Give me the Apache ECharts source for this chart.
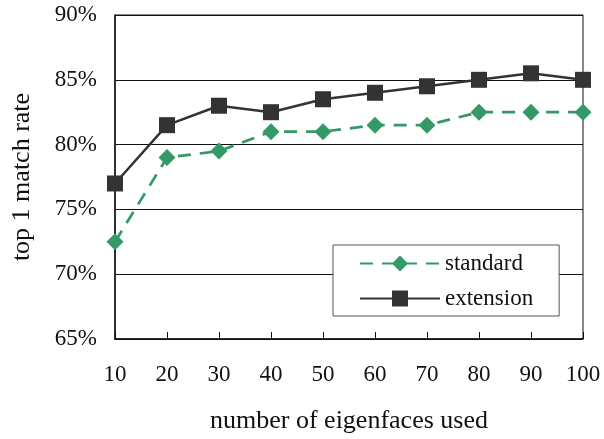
<!DOCTYPE html>
<html>
<head>
<meta charset="utf-8">
<script src="https://cdn.jsdelivr.net/npm/echarts@6/dist/echarts.min.js"></script>
<style>
  html, body { margin: 0; padding: 0; background: #fff; }
  #chart { width: 604px; height: 439px; }
</style>
</head>
<body>
<div id="chart"></div>
<script>
const categories = ['10', '20', '30', '40', '50', '60', '70', '80', '90', '100']
const standard = [72.5, 79, 79.5, 81, 81, 81.5, 81.5, 82.5, 82.5, 82.5]
const extension = [77, 81.5, 83, 82.5, 83.5, 84, 84.5, 85, 85.5, 85]

const font = "'Liberation Serif', 'Times New Roman', serif"
const chart = echarts.init(document.getElementById('chart'))

const option = {
  animation: false,
  textStyle: { fontFamily: font },
  grid: {
    left: 115,
    right: 21,
    top: 15,
    bottom: 99,
    show: true,
    borderColor: '#111',
    borderWidth: 1
  },
  legend: {
    orient: 'vertical',
    left: 333,
    top: 245,
    backgroundColor: '#fff',
    borderColor: '#555',
    borderWidth: 1,
    borderRadius: 0,
    padding: [7, 26, 6, 26],
    itemWidth: 80,
    itemHeight: 20,
    itemGap: 12,
    textStyle: { fontFamily: font, fontSize: 23, color: '#111', lineHeight: 22 },
    data: ['standard', 'extension']
  },
  xAxis: {
    type: 'category',
    boundaryGap: false,
    data: categories,
    name: 'number of eigenfaces used',
    nameLocation: 'middle',
    nameGap: 69,
    nameTextStyle: { fontFamily: font, fontSize: 26, color: '#111' },
    axisLine: { lineStyle: { color: '#111', width: 1.5 } },
    axisTick: { inside: true, length: 7, lineStyle: { color: '#111' } },
    axisLabel: { fontFamily: font, fontSize: 23, color: '#111', margin: 24 },
    splitLine: { show: false }
  },
  yAxis: {
    type: 'value',
    min: 65,
    max: 90,
    interval: 5,
    name: 'top 1 match rate',
    nameLocation: 'middle',
    nameGap: 80,
    nameTextStyle: { fontFamily: font, fontSize: 26, color: '#111' },
    axisLine: { show: true, lineStyle: { color: '#111', width: 1.5 } },
    axisTick: { show: false },
    axisLabel: { fontFamily: font, fontSize: 23, color: '#111', margin: 18, formatter: '{value}%' },
    splitLine: { lineStyle: { color: '#111', width: 1 } }
  },
  series: [
    {
      name: 'standard',
      type: 'line',
      data: standard,
      symbol: 'diamond',
      symbolSize: 17,
      itemStyle: { color: '#339966' },
      lineStyle: { color: '#339966', width: 2.7, type: [13, 9] },
      z: 3
    },
    {
      name: 'extension',
      type: 'line',
      data: extension,
      symbol: 'rect',
      symbolSize: 16,
      itemStyle: { color: '#333' },
      lineStyle: { color: '#333', width: 2.5 },
      z: 4
    }
  ]
}
chart.setOption(option)
</script>
</body>
</html>
